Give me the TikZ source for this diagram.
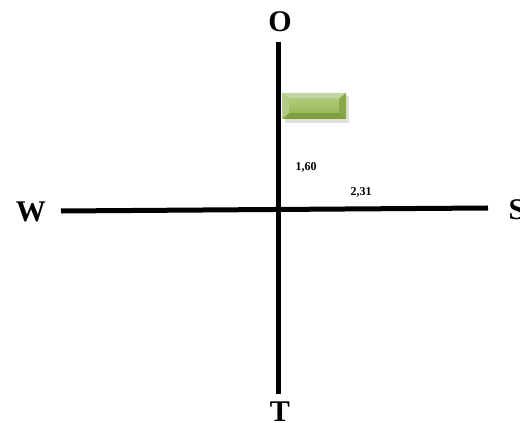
\documentclass[tikz,border=0pt]{standalone}
\usepackage{fontspec}
\setmainfont{Liberation Serif}
\definecolor{gbase}{HTML}{9BBB59}
\definecolor{glight}{HTML}{C3D69B}
\definecolor{gdark}{HTML}{76923C}
\tikzset{
  axis/.style={line width=5pt},
  bigl/.style={font=\fontsize{30}{32}\selectfont\bfseries, inner sep=0pt},
  smalll/.style={font=\fontsize{12}{13}\selectfont\bfseries, inner sep=0pt},
}
\begin{document}
\begin{tikzpicture}[x=1pt,y=1pt]
\useasboundingbox (0,0) rectangle (520,423);
% axes
\coordinate (top) at (278,381);
\coordinate (bot) at (278,29);
\coordinate (left) at (61,212);
\coordinate (right) at (488,215);
\draw[axis] (top) -- (bot);
\draw[axis] (left) -- (right);
% labels
\node[bigl] (O) at (280,401) {O};
\node[bigl] (W) at (31,211) {W};
\node[bigl] (S) at (517,213) {S};
\node[bigl] (T) at (280,11) {T};
\node[smalll] (a) at (306,256) {1,60};
\node[smalll] (b) at (361,231) {2,31};
% bevel rectangle
\fill[black!25, opacity=0.5] (285,300) rectangle (349,327);
\fill[gbase] (282,304) rectangle (346,330);
\fill[glight] (282,330) -- (346,330) -- (339,324) -- (289,324) -- cycle;
\fill[gdark!70!gbase] (282,304) -- (346,304) -- (339,310) -- (289,310) -- cycle;
\fill[gdark!50!gbase] (346,304) -- (346,330) -- (339,324) -- (339,310) -- cycle;
\fill[glight!60!gbase] (282,304) -- (282,330) -- (289,324) -- (289,310) -- cycle;
\shade[top color=glight!50!gbase, bottom color=gbase] (289,310) rectangle (339,324);
\end{tikzpicture}
\end{document}
